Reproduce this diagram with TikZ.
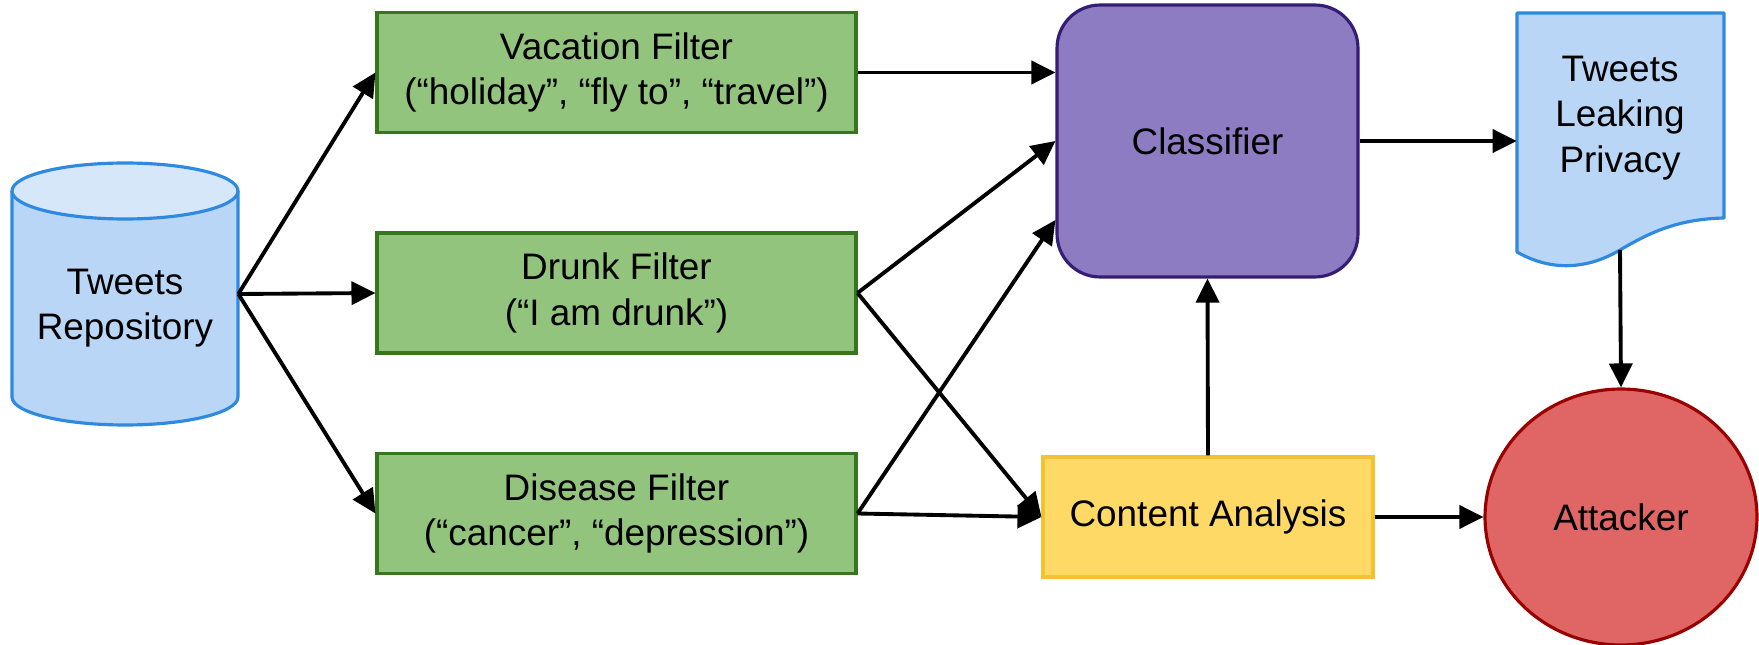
\documentclass[tikz,border=0pt]{standalone}
\usepackage{fontspec}
\setmainfont{Liberation Sans}
\usepackage{tikz}
\usetikzlibrary{shapes.geometric, arrows.meta}
\definecolor{filter-green}{HTML}{93C47D}
\definecolor{filter-edge}{HTML}{38761D}
\definecolor{tweet-blue}{HTML}{B9D6F6}
\definecolor{tweet-top}{HTML}{D6E7FA}
\definecolor{tweet-edge}{HTML}{2E8AE0}
\definecolor{clf-purple}{HTML}{8E7CC3}
\definecolor{clf-edge}{HTML}{351C75}
\definecolor{cont-yellow}{HTML}{FFD966}
\definecolor{cont-edge}{HTML}{F1C232}
\definecolor{att-red}{HTML}{E06666}
\definecolor{att-edge}{HTML}{990000}
\tikzset{
  txt/.style={inner sep=0pt, align=center, font=\fontsize{21}{26}\selectfont},
  box/.style={txt, draw, line width=1.8pt},
  filter/.style={box, fill=filter-green, draw=filter-edge, minimum width=9.58cm, minimum height=2.4cm},
  flow/.style={line width=2.2pt, -{Triangle[length=0.48cm, width=0.46cm]}}
}

\begin{document}
\begin{tikzpicture} [x=0.02cm, y=0.02cm]%Tweets pipeline
\useasboundingbox (0,0) rectangle (1759,-645);
%  repository cylinder
  \fill [tweet-blue] (12,-191) -- (12,-397) arc [start angle=180, end angle=360, x radius=2.26cm, y radius=0.56cm] -- (238,-191) -- cycle;
  \draw [tweet-edge, line width=1.8pt] (12,-191) -- (12,-397) arc [start angle=180, end angle=360, x radius=2.26cm, y radius=0.56cm] -- (238,-191);
  \filldraw [fill=tweet-top, draw=tweet-edge, line width=1.8pt] (125,-191) ellipse [x radius=2.26cm, y radius=0.56cm];
  \node [txt, minimum width=4.52cm, minimum height=5.24cm] (repo) at (125,-294) {};
  \node [txt] (repotext) at (125,-308) {Tweets\\Repository};
%  filters
  \node [filter] (vac) at (616.5,-72.5) {Vacation Filter\\(“holiday”, “fly to”, “travel”)};
  \node [filter] (drunk) at (616.5,-293) {Drunk Filter\\(“I am drunk”)};
  \node [filter] (dis) at (616.5,-513.5) {Disease Filter\\(“cancer”, “depression”)};
%  classifier and content analysis
  \node [box, fill=clf-purple, draw=clf-edge, rounded corners=0.86cm, minimum width=6.02cm, minimum height=5.44cm] (clf) at (1207.5,-141) {Classifier};
  \node [box, fill=cont-yellow, draw=cont-edge, minimum width=6.6cm, minimum height=2.4cm] (cont) at (1208,-517) {Content Analysis};
%  leaking tweets document
  \filldraw [fill=tweet-blue, draw=tweet-edge, line width=1.8pt, line join=round] (1517,-13) -- (1724,-13) -- (1724,-218)
    .. controls (1680,-219) and (1652,-231) .. (1620,-250) .. controls (1588,-269) and (1552,-272) .. (1517,-252) -- cycle;
  \node [txt, minimum width=4.14cm, minimum height=5.12cm] (leak) at (1620.5,-141) {};
  \node [txt] (leaktext) at (1620,-118) {Tweets\\Leaking\\Privacy};
  \coordinate (leakfoot) at (1620,-250);
%  attacker
  \node [box, ellipse, fill=att-red, draw=att-edge, minimum width=5.44cm, minimum height=5.12cm] (att) at (1621,-517) {Attacker};
%  connectors
  \draw [flow] (repo.east) -- (vac.west);
  \draw [flow] (repo.east) -- (drunk.west);
  \draw [flow] (repo.east) -- (dis.west);
  \draw [flow] (vac.east) -- (vac.east -| clf.west);
  \draw [flow] (drunk.east) -- (clf.west);
  \draw [flow] (dis.east) -- ([yshift=-1.58cm] clf.west);
  \draw [flow] (drunk.east) -- (cont.west);
  \draw [flow] (dis.east) -- (cont.west);
  \draw [flow] (cont.north) -- (clf.south);
  \draw [flow] (cont.east) -- (att.west);
  \draw [flow] (clf.east) -- (clf.east -| leak.west);
  \draw [flow] (leakfoot) -- (att.north);
\end{tikzpicture}
\end{document}
